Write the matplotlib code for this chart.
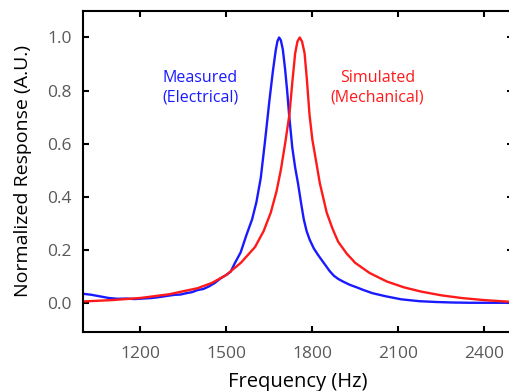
import matplotlib
matplotlib.use("Agg")
import matplotlib.pyplot as plt
from matplotlib.ticker import FormatStrFormatter

plt.rcParams["font.family"] = ["Open Sans", "DejaVu Sans"]

# measured (electrical) response
measured_freq = [1000, 1030, 1060, 1090, 1120, 1150, 1180, 1210, 1240, 1270, 1300, 1320,
                 1340, 1360, 1380, 1400, 1420, 1440, 1460, 1480, 1500, 1515, 1530, 1550,
                 1570, 1590, 1605, 1620, 1635, 1650, 1662, 1672, 1678, 1684, 1690, 1697,
                 1705, 1712, 1719, 1730, 1740, 1750, 1760, 1770, 1780, 1791, 1805, 1820,
                 1840, 1860, 1875, 1890, 1907, 1930, 1955, 1976, 2010, 2058, 2110, 2173,
                 2230, 2289, 2350, 2420, 2500]
measured_resp = [0.034, 0.030, 0.024, 0.018, 0.015, 0.016, 0.014, 0.016, 0.018, 0.022, 0.027, 0.030,
                 0.031, 0.036, 0.040, 0.048, 0.052, 0.062, 0.075, 0.092, 0.105, 0.117, 0.150, 0.190,
                 0.255, 0.315, 0.380, 0.470, 0.610, 0.760, 0.870, 0.950, 0.985, 1.000, 0.990, 0.955,
                 0.880, 0.800, 0.708, 0.585, 0.510, 0.450, 0.380, 0.315, 0.270, 0.237, 0.205, 0.180,
                 0.150, 0.120, 0.102, 0.090, 0.080, 0.068, 0.058, 0.049, 0.036, 0.024, 0.013, 0.006,
                 0.003, 0.001, 0.000, 0.000, 0.000]

# simulated (mechanical) response
simulated_freq = [1000, 1100, 1200, 1300, 1400, 1450, 1500, 1550, 1600, 1630, 1655, 1675,
                  1690, 1705, 1720, 1730, 1740, 1748, 1756, 1764, 1773, 1781, 1790, 1800,
                  1812, 1826, 1850, 1870, 1890, 1920, 1950, 2000, 2060, 2120, 2180, 2250,
                  2320, 2400, 2500]
simulated_resp = [0.005, 0.010, 0.018, 0.032, 0.055, 0.075, 0.105, 0.150, 0.210, 0.270, 0.340, 0.420,
                  0.500, 0.600, 0.710, 0.830, 0.940, 0.985, 1.000, 0.985, 0.940, 0.840, 0.710, 0.615,
                  0.540, 0.451, 0.340, 0.280, 0.230, 0.185, 0.150, 0.112, 0.080, 0.058, 0.042, 0.028,
                  0.018, 0.010, 0.003]

x_ticks = [1200, 1500, 1800, 2100, 2400]
y_ticks = [0.0, 0.2, 0.4, 0.6, 0.8, 1.0]

fig = plt.figure(figsize=(5.09, 3.91), dpi=100)
ax = fig.add_axes([0.163, 0.151, 0.845, 0.821])

ax.plot(measured_freq, measured_resp, color="#1a1aff", linewidth=1.7)
ax.plot(simulated_freq, simulated_resp, color="#ff1a1a", linewidth=1.7)

ax.text(1409, 0.81, "Measured\n(Electrical)", color="#1a1aff", fontsize=11.5,
        ha="center", va="center", linespacing=1.3)
ax.text(2027, 0.81, "Simulated\n(Mechanical)", color="#ff1a1a", fontsize=11.5,
        ha="center", va="center", linespacing=1.3)

ax.set_xlim(1000, 2500)
ax.set_ylim(-0.11, 1.1)
ax.set_xticks(x_ticks)
ax.set_yticks(y_ticks)
ax.yaxis.set_major_formatter(FormatStrFormatter("%.1f"))

ax.tick_params(direction="in", length=4, width=1.5, top=True, right=True,
               labelsize=12.5, labelcolor="#595959", pad=10)
ax.tick_params(axis="y", pad=8)
for spine in ax.spines.values():
    spine.set_linewidth(1.5)

ax.set_xlabel("Frequency (Hz)", fontsize=14.5, labelpad=7)
ax.set_ylabel("Normalized Response (A.U.)", fontsize=14, labelpad=11)

fig.savefig("out.png", dpi=100)
